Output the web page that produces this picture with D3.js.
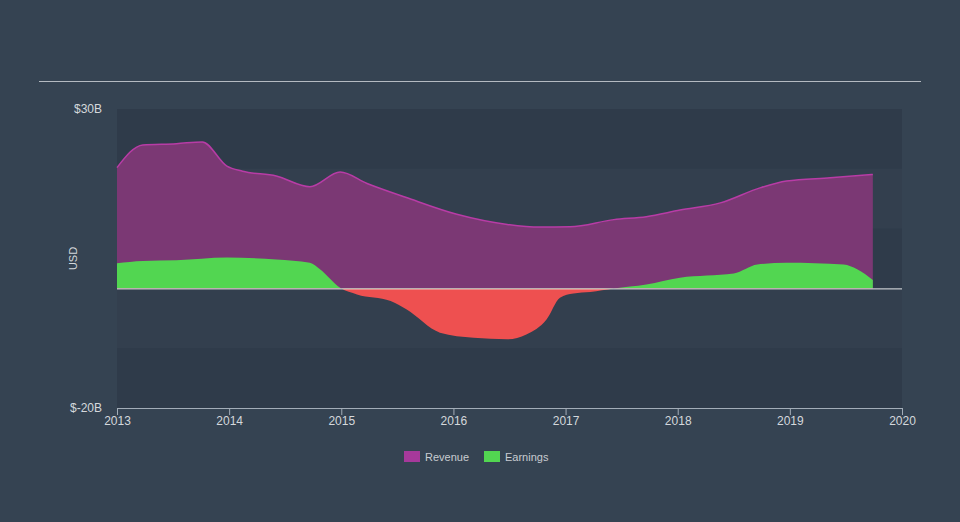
<!DOCTYPE html>
<html>
<head>
<meta charset="utf-8">
<script src="https://cdn.jsdelivr.net/npm/d3@7"></script>
<style>
  body { margin: 0; background: #354352; }
  svg { display: block; font-family: "Liberation Sans", Arial, sans-serif; }
</style>
</head>
<body>
<div id="chart"></div>
<script>
// revenue, billions USD (decimal year)
var revYears = [2013.00, 2013.23, 2013.53, 2013.76, 2013.98, 2014.12, 2014.42, 2014.72, 2014.99,
                2015.23, 2015.58, 2016.03, 2016.48, 2016.77, 2017.04, 2017.43, 2017.72, 2018.02,
                2018.38, 2018.74, 2018.97, 2019.36, 2019.74];
var revValues = [20.2, 24.0, 24.2, 24.5, 20.45, 19.6, 18.8, 17.0, 19.45,
                 17.55, 15.2, 12.4, 10.7, 10.25, 10.3, 11.5, 12.0, 13.1,
                 14.3, 16.85, 17.95, 18.5, 19.05];

// earnings, billions USD
var earnYears = [2013.00, 2013.23, 2013.53, 2013.98, 2014.42, 2014.72, 2014.81, 2014.99, 2015.14,
                 2015.44, 2015.58, 2015.88, 2016.18, 2016.48, 2016.65, 2016.83, 2016.95, 2017.07,
                 2017.22, 2017.43, 2017.72, 2018.02, 2018.26, 2018.50, 2018.71, 2018.97, 2019.48,
                 2019.60, 2019.74];
var earnValues = [4.2, 4.6, 4.7, 5.15, 4.85, 4.3, 3.2, 0.1, -1.0,
                  -2.1, -3.5, -7.4, -8.25, -8.5, -7.7, -5.2, -1.55, -0.85,
                  -0.6, 0.0, 0.65, 1.8, 2.15, 2.5, 4.0, 4.3, 4.0,
                  3.2, 1.4];

var xTicks = [2013, 2014, 2015, 2016, 2017, 2018, 2019, 2020];
var yTicks = [30, -20];
var yTickLabels = ["$30B", "$-20B"];
var bandEdges = [30, 20, 10, 0, -10, -20];

var W = 960, H = 522;
var margin = {top: 109, right: 58, bottom: 114, left: 117},
    width = W - margin.left - margin.right,
    height = H - margin.top - margin.bottom;

var svg = d3.select("#chart").append("svg")
    .attr("width", W)
    .attr("height", H);

// top rule
svg.append("line")
    .attr("x1", 39).attr("x2", 921)
    .attr("y1", 81.5).attr("y2", 81.5)
    .attr("stroke", "#b4bac1")
    .attr("stroke-width", 1);

var g = svg.append("g")
    .attr("transform", "translate(" + margin.left + "," + margin.top + ")");

var x = d3.scaleLinear().domain([2013, 2020]).range([0, width]);
var y = d3.scaleLinear().domain([-20, 30]).range([height, 0]);

// background bands
for (var i = 0; i < bandEdges.length - 1; i++) {
  g.append("rect")
      .attr("x", 0)
      .attr("y", y(bandEdges[i]))
      .attr("width", width)
      .attr("height", y(bandEdges[i + 1]) - y(bandEdges[i]))
      .attr("fill", i % 2 === 0 ? "#2f3b4a" : "#333f4e");
}

var rev = revYears.map(function(d, i) { return {t: d, v: revValues[i]}; });
var earn = earnYears.map(function(d, i) { return {t: d, v: earnValues[i]}; });

var curve = d3.curveMonotoneX;

// revenue
g.append("path")
    .datum(rev)
    .attr("fill", "#7b3874")
    .attr("d", d3.area()
        .x(function(d) { return x(d.t); })
        .y0(y(0))
        .y1(function(d) { return y(d.v); })
        .curve(curve));
g.append("path")
    .datum(rev)
    .attr("fill", "none")
    .attr("stroke", "#b83ca6")
    .attr("stroke-width", 1.5)
    .attr("d", d3.line()
        .x(function(d) { return x(d.t); })
        .y(function(d) { return y(d.v); })
        .curve(curve));

// earnings: green above zero, red below
var defs = svg.append("defs");
defs.append("clipPath").attr("id", "clipPos")
  .append("rect").attr("x", 0).attr("y", 0).attr("width", width).attr("height", y(0));
defs.append("clipPath").attr("id", "clipNeg")
  .append("rect").attr("x", 0).attr("y", y(0)).attr("width", width).attr("height", height - y(0));

var earnArea = d3.area()
    .x(function(d) { return x(d.t); })
    .y0(y(0))
    .y1(function(d) { return y(d.v); })
    .curve(curve);

g.append("path")
    .datum(earn)
    .attr("fill", "#52d651")
    .attr("clip-path", "url(#clipPos)")
    .attr("d", earnArea);
g.append("path")
    .datum(earn)
    .attr("fill", "#ee5050")
    .attr("clip-path", "url(#clipNeg)")
    .attr("d", earnArea);

// zero line
g.append("line")
    .attr("x1", 0).attr("x2", width)
    .attr("y1", y(0) + 0.5).attr("y2", y(0) + 0.5)
    .attr("stroke", "#e6e8ea")
    .attr("stroke-width", 1);

// x axis
var xAxis = g.append("g")
    .attr("transform", "translate(0," + height + ")")
    .call(d3.axisBottom(x).tickValues(xTicks).tickFormat(d3.format("d")).tickSize(7).tickSizeOuter(0));
xAxis.select(".domain").attr("stroke", "#a3adb8");
xAxis.selectAll(".tick line").attr("stroke", "#a3adb8");
xAxis.selectAll("text")
    .attr("fill", "#d4d8dc")
    .attr("font-size", "12px")
    .attr("dy", "0.62em");

// y labels
g.selectAll(".ylab")
    .data(yTicks)
    .enter()
    .append("text")
      .attr("x", -15)
      .attr("y", function(d) { return y(d); })
      .attr("dy", "0.35em")
      .attr("text-anchor", "end")
      .attr("fill", "#d4d8dc")
      .attr("font-size", "12px")
      .text(function(d, i) { return yTickLabels[i]; });

svg.append("text")
    .attr("transform", "translate(77," + (margin.top + y(5)) + ") rotate(-90)")
    .attr("text-anchor", "middle")
    .attr("fill", "#d4d8dc")
    .attr("font-size", "11px")
    .text("USD");

// legend
var legend = [{name: "Revenue", color: "#a6399b", x: 404}, {name: "Earnings", color: "#52d651", x: 484}];
var lg = svg.selectAll(".legend")
    .data(legend)
    .enter()
    .append("g")
      .attr("transform", function(d) { return "translate(" + d.x + ",451)"; });
lg.append("rect")
    .attr("width", 16).attr("height", 11)
    .attr("fill", function(d) { return d.color; });
lg.append("text")
    .attr("x", 21).attr("y", 9.5)
    .attr("fill", "#c8ccd1")
    .attr("font-size", "11px")
    .text(function(d) { return d.name; });
</script>
</body>
</html>
